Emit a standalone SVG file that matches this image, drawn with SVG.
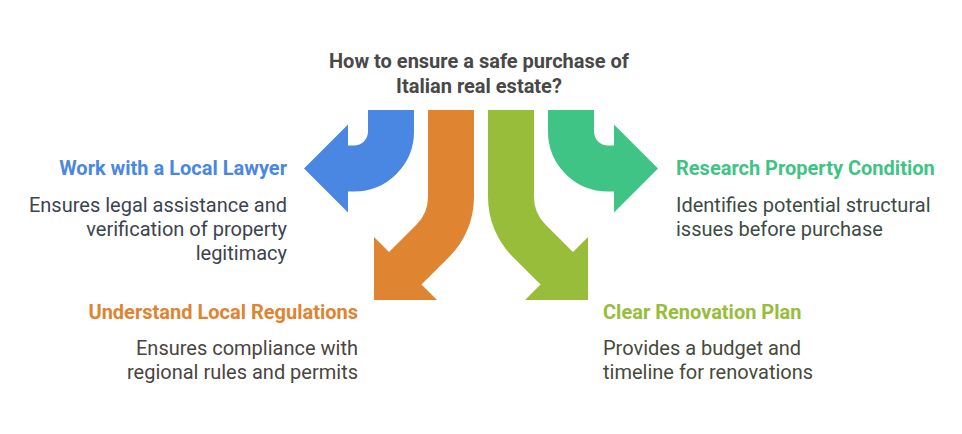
<svg xmlns="http://www.w3.org/2000/svg" width="962" height="434" viewBox="0 0 962 434">
<style>
.t{font-family:Roboto,"Liberation Sans",sans-serif;font-weight:700;font-size:20px;fill:#484848}
.h{font-family:Roboto,"Liberation Sans",sans-serif;font-weight:700;font-size:20px}
.d{font-family:Roboto,"Liberation Sans",sans-serif;font-size:20px}
.s{fill:none;stroke-width:46;stroke-linejoin:miter}
</style>
<rect width="962" height="434" fill="#ffffff"/>
<g id="title">
<text class="t" x="479" y="68" text-anchor="middle">How to ensure a safe purchase of</text>
<text class="t" x="479" y="93" text-anchor="middle">Italian real estate?</text>
</g>
<g id="connectors">
<g id="arrow-lawyer">
<path class="s" stroke="#4a87e2" d="M391,110 V131.5 A37,37 0 0 1 354,168.5 H346"/>
<polygon fill="#4a87e2" points="348,124.5 304,168.5 348,212.5"/>
</g>
<g id="arrow-regulations">
<path class="s" stroke="#df8431" d="M451,110 V197 A62,62 0 0 1 432.8,240.8 L403,270.5"/>
<polygon fill="#df8431" points="374,237 374,300 437,300"/>
</g>
<g id="arrow-renovation">
<path class="s" stroke="#97bd3b" d="M511,110 V197 A62,62 0 0 0 529.2,240.8 L559,270.5"/>
<polygon fill="#97bd3b" points="588,237 588,300 525,300"/>
</g>
<g id="arrow-condition">
<path class="s" stroke="#3fc486" d="M571,110 V131.5 A37,37 0 0 0 608,168.5 H616"/>
<polygon fill="#3fc486" points="614,124.5 658,168.5 614,212.5"/>
</g>
</g>
<g id="node-lawyer">
<text class="h" x="287" y="175" text-anchor="end" fill="#4a87e2">Work with a Local Lawyer</text>
<g fill="#3c4350">
<text class="d" x="287" y="212" text-anchor="end">Ensures legal assistance and</text>
<text class="d" x="287" y="236" text-anchor="end">verification of property</text>
<text class="d" x="287" y="260" text-anchor="end">legitimacy</text>
</g>
</g>
<g id="node-regulations">
<text class="h" x="358" y="319" text-anchor="end" fill="#df8431">Understand Local Regulations</text>
<g fill="#4a4440">
<text class="d" x="358" y="355" text-anchor="end">Ensures compliance with</text>
<text class="d" x="358" y="379" text-anchor="end">regional rules and permits</text>
</g>
</g>
<g id="node-condition">
<text class="h" x="676" y="175" fill="#3fc486">Research Property Condition</text>
<g fill="#3d4b45">
<text class="d" x="676" y="212">Identifies potential structural</text>
<text class="d" x="676" y="236">issues before purchase</text>
</g>
</g>
<g id="node-renovation">
<text class="h" x="603" y="319" fill="#97bd3b">Clear Renovation Plan</text>
<g fill="#454a3c">
<text class="d" x="603" y="355">Provides a budget and</text>
<text class="d" x="603" y="379">timeline for renovations</text>
</g>
</g>
</svg>
